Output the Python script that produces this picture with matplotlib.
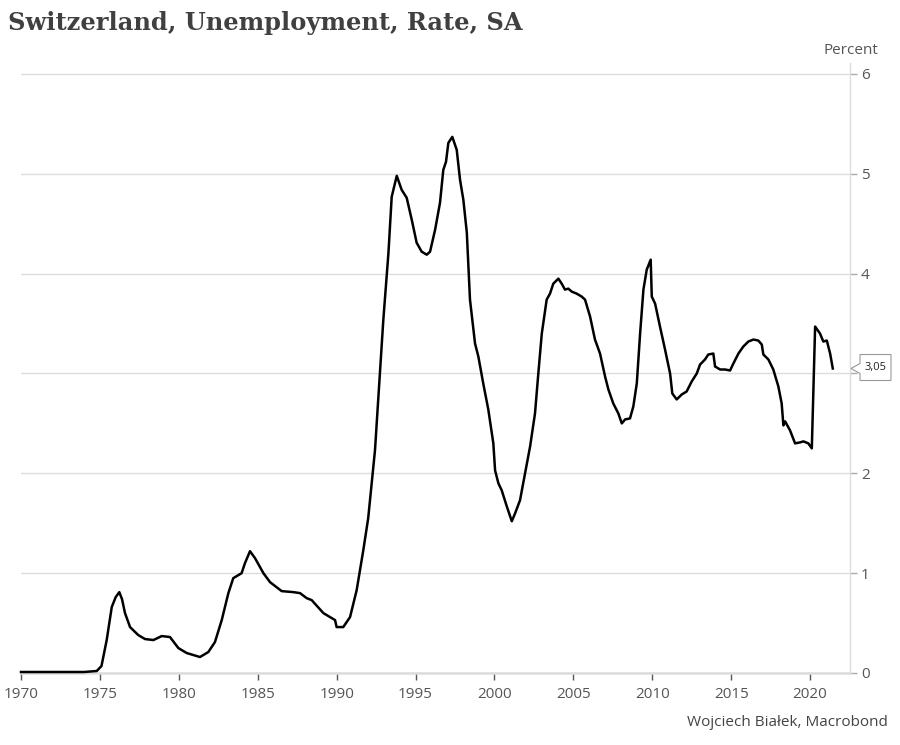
import matplotlib
matplotlib.use("Agg")
import matplotlib.pyplot as plt
from matplotlib.patches import Polygon
from matplotlib.transforms import IdentityTransform, blended_transform_factory

title = "Switzerland, Unemployment, Rate, SA"
unit_label = "Percent"
source = "Wojciech Białek, Macrobond"

years = [
    1970.0, 1972.0, 1974.0, 1974.8, 1975.1, 1975.43, 1975.75, 1976.0, 1976.23, 1976.4,
    1976.59, 1976.91, 1977.43, 1977.86, 1978.39, 1978.92, 1979.44, 1979.97, 1980.5, 1981.34,
    1981.87, 1982.29, 1982.72, 1983.14, 1983.45, 1983.98, 1984.19, 1984.51, 1984.83, 1985.36,
    1985.78, 1986.52, 1987.26, 1987.68, 1988.1, 1988.42, 1989.16, 1989.9, 1990.0, 1990.42,
    1990.85, 1991.27, 1991.69, 1992.0, 1992.43, 1992.96, 1993.28, 1993.49, 1993.81, 1994.12,
    1994.44, 1994.76, 1995.07, 1995.39, 1995.71, 1995.92, 1996.24, 1996.55, 1996.76, 1996.93,
    1997.08, 1997.33, 1997.61, 1997.82, 1998.03, 1998.25, 1998.45, 1998.77, 1998.98, 1999.29,
    1999.61, 1999.93, 2000.04, 2000.25, 2000.46, 2000.78, 2001.1, 2001.31, 2001.62, 2001.94,
    2002.26, 2002.57, 2002.78, 2003.0, 2003.31, 2003.52, 2003.73, 2004.05, 2004.26, 2004.47,
    2004.68, 2004.9, 2005.21, 2005.53, 2005.74, 2006.06, 2006.37, 2006.69, 2007.01, 2007.22,
    2007.53, 2007.85, 2008.07, 2008.28, 2008.59, 2008.8, 2009.02, 2009.23, 2009.44, 2009.65,
    2009.9, 2009.97, 2010.18, 2010.49, 2010.81, 2011.13, 2011.27, 2011.55, 2011.87, 2012.18,
    2012.5, 2012.82, 2013.03, 2013.34, 2013.55, 2013.87, 2013.98, 2014.3, 2014.61, 2014.93,
    2015.14, 2015.46, 2015.77, 2016.09, 2016.41, 2016.72, 2016.94, 2017.04, 2017.36, 2017.67,
    2017.99, 2018.2, 2018.31, 2018.42, 2018.73, 2019.05, 2019.37, 2019.58, 2019.89, 2020.11,
    2020.32, 2020.63, 2020.84, 2021.06, 2021.27, 2021.44,
]
rate = [
    0.01, 0.01, 0.01, 0.02, 0.07, 0.33, 0.66, 0.76, 0.81, 0.74,
    0.60, 0.46, 0.38, 0.34, 0.33, 0.37, 0.36, 0.25, 0.20, 0.16,
    0.21, 0.31, 0.53, 0.80, 0.95, 1.00, 1.10, 1.22, 1.15, 1.00,
    0.91, 0.82, 0.81, 0.80, 0.75, 0.73, 0.60, 0.53, 0.46, 0.46,
    0.56, 0.83, 1.23, 1.55, 2.23, 3.54, 4.20, 4.77, 4.98, 4.84,
    4.76, 4.54, 4.31, 4.22, 4.19, 4.22, 4.44, 4.71, 5.04, 5.12,
    5.31, 5.37, 5.24, 4.94, 4.74, 4.41, 3.74, 3.30, 3.17, 2.90,
    2.64, 2.30, 2.03, 1.90, 1.83, 1.67, 1.52, 1.60, 1.73, 2.00,
    2.27, 2.60, 3.00, 3.40, 3.74, 3.80, 3.90, 3.95, 3.90, 3.84,
    3.85, 3.82, 3.80, 3.77, 3.74, 3.57, 3.34, 3.20, 2.97, 2.84,
    2.70, 2.60, 2.50, 2.54, 2.55, 2.67, 2.90, 3.40, 3.84, 4.04,
    4.14, 3.77, 3.70, 3.47, 3.24, 3.00, 2.80, 2.74, 2.79, 2.82,
    2.92, 3.00, 3.09, 3.14, 3.19, 3.20, 3.07, 3.04, 3.04, 3.03,
    3.10, 3.20, 3.27, 3.32, 3.34, 3.33, 3.29, 3.19, 3.14, 3.04,
    2.87, 2.70, 2.48, 2.52, 2.43, 2.30, 2.31, 2.32, 2.30, 2.25,
    3.47, 3.40, 3.32, 3.33, 3.20, 3.05,
]
x_ticks = [1970, 1975, 1980, 1985, 1990, 1995, 2000, 2005, 2010, 2015, 2020]
y_ticks = [0, 1, 2, 3, 4, 5, 6]
y_tick_labels = ["0", "1", "2", "", "4", "5", "6"]  # "3" is hidden behind the value callout

W, H = 900, 745
fig = plt.figure(figsize=(W / 100, H / 100), dpi=100)
ax = fig.add_axes([21 / W, 1 - 673 / H, (850 - 21) / W, (673 - 63) / H])

tick_color = "#555555"
grid_color = "#dcdcdc"
font = "Open Sans"

ax.plot(years, rate, color="black", lw=1.8, solid_joinstyle="round", clip_on=False, zorder=3)
ax.set_xlim(1970, 2022.53)
ax.set_ylim(0, 6.11)

ax.set_xticks(x_ticks)
ax.set_yticks(y_ticks)
ax.set_yticklabels(y_tick_labels)
ax.yaxis.tick_right()
for s in ["top", "left"]:
    ax.spines[s].set_visible(False)
ax.spines["right"].set_color(grid_color)
ax.spines["right"].set_linewidth(1.0)
ax.spines["bottom"].set_color(grid_color)
ax.spines["bottom"].set_linewidth(1.8)
ax.grid(axis="y", color=grid_color, lw=1.0)
ax.set_axisbelow(True)
ax.tick_params(axis="x", direction="out", length=5, width=1, color=tick_color,
               labelsize=11, labelcolor=tick_color, pad=5)
ax.tick_params(axis="y", direction="out", length=5, width=1, color="#aaaaaa",
               labelsize=11, labelcolor=tick_color, pad=3)
for lab in ax.get_xticklabels() + ax.get_yticklabels():
    lab.set_fontfamily(font)

fig.text(8 / W, 1 - 23 / H, title, fontsize=17.4, fontweight="bold", family="DejaVu Serif",
         color="#404040", ha="left", va="center")
fig.text(878 / W, 1 - 50 / H, unit_label, fontsize=11, family=font, color=tick_color,
         ha="right", va="center")
fig.text(888 / W, 1 - 722 / H, source, fontsize=11, family=font, color="#444444",
         ha="right", va="center")

# callout for last value
last = rate[-1]
blend = blended_transform_factory(ax.transAxes, ax.transData)
x0, y0 = blend.transform((1.0, last))
verts = [(x0 + 1, y0), (x0 + 10, y0 + 5), (x0 + 10, y0 + 14), (x0 + 41, y0 + 14),
         (x0 + 41, y0 - 12), (x0 + 10, y0 - 12), (x0 + 10, y0 - 5)]
poly = Polygon(verts, closed=True, facecolor="white", edgecolor="#999999", lw=0.8,
               transform=IdentityTransform(), clip_on=False, zorder=5)
fig.add_artist(poly)
fig.text((x0 + 25.5) / W, (y0 + 1) / H, f"{last:.2f}".replace(".", ","), fontsize=8,
         family=font, color="#222222", ha="center", va="center", zorder=6)

fig.savefig("out.png", dpi=100)
